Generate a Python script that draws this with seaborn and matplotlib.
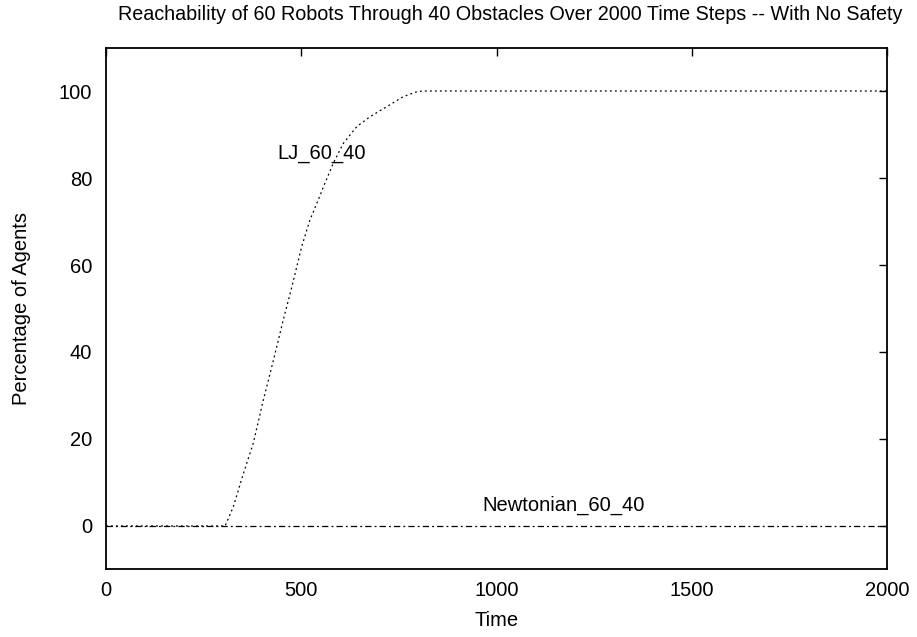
import matplotlib
matplotlib.use("Agg")
import matplotlib.pyplot as plt
import seaborn as sns
import pandas as pd

# Reachability curves (time step, percentage of agents at goal)
lj_time = [0, 100, 200, 305, 326, 352, 377, 403, 429, 454, 476, 501, 522, 545,
           557, 582, 608, 642, 676, 719, 761, 795, 810, 1000, 1500, 2000]
lj_pct = [0, 0, 0, 0, 4.4, 12.1, 19.0, 29.0, 38.2, 47.4, 55.0, 64.2, 70.3, 75.3,
          78.0, 83.4, 88.0, 91.8, 94.1, 96.4, 98.7, 99.8, 100, 100, 100, 100]
newton_time = [0, 500, 1000, 1500, 2000]
newton_pct = [0, 0, 0, 0, 0]

title = "Reachability of 60 Robots Through 40 Obstacles Over 2000 Time Steps -- With No Safety"
x_ticks = [0, 500, 1000, 1500, 2000]
y_ticks = [0, 20, 40, 60, 80, 100]

sns.set_theme(style="white")
plt.rcParams["font.family"] = ["Liberation Sans", "DejaVu Sans"]
plt.rcParams["text.color"] = "black"
plt.rcParams["axes.labelcolor"] = "black"

FS = 14.5

fig = plt.figure(figsize=(9.17, 6.37), dpi=100)
ax = fig.add_axes([0.1156, 0.106, 0.8517, 0.8194])

lj = pd.DataFrame({"Time": lj_time, "pct": lj_pct})
nw = pd.DataFrame({"Time": newton_time, "pct": newton_pct})

sns.lineplot(data=lj, x="Time", y="pct", ax=ax, color="black", linewidth=0.9,
             linestyle=(0, (1.5, 2.5)))
sns.lineplot(data=nw, x="Time", y="pct", ax=ax, color="black", linewidth=0.9,
             linestyle=(0, (5, 2.5, 1.5, 2.5)))

ax.text(438, 85.7, "LJ_60_40", fontsize=FS, ha="left", va="center")
ax.text(963, 4.8, "Newtonian_60_40", fontsize=FS, ha="left", va="center")

ax.set_xlim(0, 2000)
ax.set_ylim(-10, 110)
ax.set_xticks(x_ticks)
ax.set_yticks(y_ticks)
ax.tick_params(direction="in", length=6, width=1, top=True, right=True,
               labelsize=FS, colors="black")
ax.tick_params(axis="x", pad=8)
ax.tick_params(axis="y", pad=10)
for s in ax.spines.values():
    s.set_visible(True)
    s.set_color("black")
    s.set_linewidth(1.3)

ax.set_xlabel("Time", fontsize=FS, labelpad=8)
ax.set_ylabel("Percentage of Agents", fontsize=FS, labelpad=20)
ax.set_title(title, fontsize=14.2, pad=20, x=0.518)

fig.savefig("out.png", dpi=100, facecolor="white")
